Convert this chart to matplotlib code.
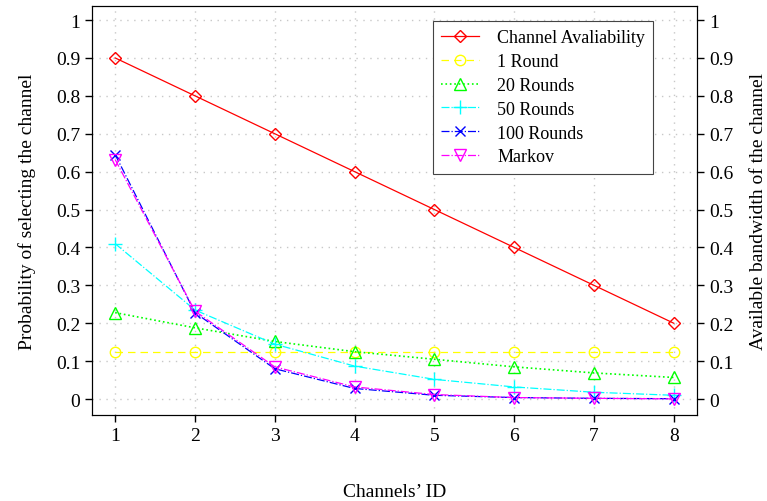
import numpy as np
import matplotlib.pyplot as plt

plt.rcParams['font.family'] = ['Liberation Serif', 'DejaVu Serif']
plt.rcParams['font.size'] = 14

channels = [1, 2, 3, 4, 5, 6, 7, 8]
availability = [0.9, 0.8, 0.7, 0.6, 0.5, 0.4, 0.3, 0.2]
round1 = [0.125, 0.125, 0.125, 0.125, 0.125, 0.125, 0.125, 0.125]
round20 = [0.228, 0.188, 0.152, 0.125, 0.105, 0.085, 0.069, 0.057]
round50 = [0.41, 0.235, 0.145, 0.087, 0.052, 0.032, 0.018, 0.01]
round100 = [0.645, 0.228, 0.08, 0.028, 0.01, 0.004, 0.002, 0.001]
markov = [0.632, 0.232, 0.085, 0.032, 0.012, 0.004, 0.002, 0.0005]

fig = plt.figure(figsize=(7.67, 5.02), dpi=100)
ax = fig.add_axes([92/767, 1-416/502, 605/767, 409/502])

ms = 7.5
ax.plot(channels, availability, color='red', ls='-', lw=0.9, marker='D', ms=6.5,
        mfc='none', mec='red', label='Channel Avaliability')
ax.plot(channels, round1, color='yellow', ls=(0, (6, 4)), lw=0.9, marker='o', ms=ms,
        mfc='none', label='1 Round')
ax.plot(channels, round20, color='lime', ls=':', lw=1.2, marker='^', ms=ms + 1,
        mfc='none', label='20 Rounds')
ax.plot(channels, round50, color='cyan', ls='-.', lw=0.9, marker='+', ms=10,
        label='50 Rounds')
ax.plot(channels, round100, color='blue', ls='-.', lw=0.9, marker='x', ms=7,
        label='100 Rounds')
ax.plot(channels, markov, color='magenta', ls='-.', lw=0.9, marker='v', ms=ms + 1,
        mfc='none', label='Markov')

ax.set_xlim(0.71, 8.29)
ax.set_ylim(-0.042, 1.037)
ax.set_xticks(channels)
yt = np.round(np.arange(0, 1.01, 0.1), 1)
ylabels = ['0' if v == 0 else ('1' if v == 1 else f'{v:.1f}') for v in yt]
ax.set_yticks(yt)
ax.set_yticklabels(ylabels)
ax.grid(True, ls=(0, (1, 4)), color='#c8c8c8', lw=1)
ax.tick_params(direction='out', length=5, width=1)
ax.set_xlabel("Channels\u2019 ID", labelpad=28)
ax.set_ylabel('Probability of selecting the channel', labelpad=14)

ax2 = ax.twinx()
ax2.set_ylim(ax.get_ylim())
ax2.set_yticks(yt)
ax2.set_yticklabels(ylabels)
ax2.tick_params(direction='out', length=5, width=1)
ax2.set_ylabel('Available bandwidth of the channel', labelpad=12)

leg = ax.legend(loc='upper left', bbox_to_anchor=(433/767, 1-22/502),
                bbox_transform=fig.transFigure, fancybox=False, framealpha=1,
                edgecolor='#444444', fontsize=13, handlelength=2.1,
                handletextpad=1.0, labelspacing=0.38, borderpad=0.45,
                borderaxespad=0)
leg.get_frame().set_linewidth(0.8)

fig.savefig('out.png', dpi=100)
